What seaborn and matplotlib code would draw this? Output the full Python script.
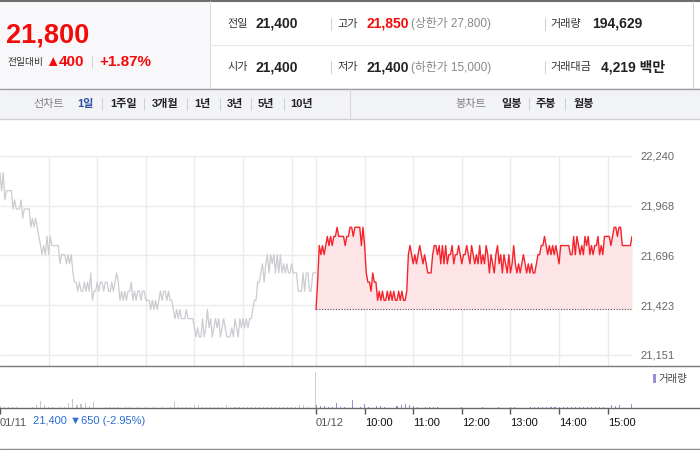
import numpy as np
import pandas as pd
import matplotlib
matplotlib.use("Agg")
import matplotlib.pyplot as plt
import seaborn as sns
from matplotlib import font_manager
from matplotlib.patches import Rectangle
from matplotlib.lines import Line2D

# ---------------- data ----------------
prev_prices = [
    22150, 22050, 22150, 22000, 22050, 22050, 22050, 22050, 21950, 22000,
    21950, 21950, 21950, 22000, 21900, 21950, 21950, 21950, 21950, 21850,
    21900, 21850, 21900, 21850, 21800, 21750, 21700, 21750, 21700, 21800,
    21700, 21800, 21750, 21750, 21750, 21750, 21750, 21650, 21700, 21700,
    21700, 21650, 21700, 21650, 21700, 21600, 21550, 21550, 21500, 21550,
    21500, 21500, 21550, 21500, 21550, 21500, 21600, 21450, 21500, 21500,
    21550, 21500, 21550, 21550, 21500, 21550, 21550, 21500, 21500, 21550,
    21500, 21550, 21600, 21550, 21450, 21500, 21450, 21500, 21450, 21500,
    21500, 21550, 21450, 21500, 21450, 21500, 21500, 21450, 21500, 21500,
    21450, 21450, 21450, 21400, 21450, 21400, 21450, 21400, 21450, 21500,
    21450, 21500, 21500, 21450, 21500, 21450, 21450, 21400, 21350, 21400,
    21350, 21400, 21350, 21350, 21350, 21400, 21350, 21350, 21350, 21350,
    21300, 21250, 21300, 21250, 21250, 21350, 21250, 21300, 21400, 21300,
    21350, 21250, 21300, 21350, 21300, 21350, 21250, 21300, 21350, 21300,
    21250, 21250, 21250, 21300, 21250, 21350, 21300, 21250, 21350, 21300,
    21350, 21300, 21350, 21300, 21350, 21350, 21400, 21450, 21450, 21550,
    21550, 21600, 21650, 21550, 21650, 21700, 21600, 21700, 21650, 21700,
    21600, 21700, 21600, 21700, 21600, 21650, 21600, 21650, 21600, 21600,
    21650, 21600, 21600, 21600, 21500, 21500, 21500, 21600, 21500, 21600,
    21600, 21500, 21500, 21600, 21600, 21600,
]
today_prices = [
    21400, 21550, 21750, 21700, 21750, 21700, 21750, 21800, 21750, 21800,
    21750, 21800, 21800, 21850, 21800, 21800, 21800, 21800, 21750, 21800,
    21800, 21850, 21850, 21800, 21850, 21850, 21850, 21850, 21750, 21850,
    21750, 21600, 21550, 21550, 21500, 21600, 21550, 21550, 21450, 21500,
    21450, 21500, 21450, 21450, 21500, 21450, 21500, 21450, 21500, 21450,
    21450, 21500, 21450, 21500, 21450, 21450, 21500, 21700, 21750, 21700,
    21650, 21700, 21650, 21700, 21750, 21700, 21650, 21700, 21650, 21600,
    21600, 21600, 21700, 21750, 21750, 21700, 21750, 21650, 21750, 21650,
    21750, 21650, 21700, 21700, 21750, 21650, 21700, 21700, 21750, 21700,
    21650, 21700, 21700, 21750, 21700, 21650, 21750, 21700, 21650, 21700,
    21650, 21750, 21650, 21700, 21650, 21750, 21700, 21600, 21700, 21650,
    21600, 21700, 21750, 21650, 21700, 21600, 21700, 21650, 21600, 21700,
    21600, 21650, 21750, 21650, 21600, 21650, 21600, 21650, 21700, 21650,
    21600, 21650, 21600, 21650, 21600, 21600, 21650, 21700, 21700, 21750,
    21750, 21800, 21750, 21700, 21750, 21700, 21750, 21700, 21750, 21700,
    21650, 21750, 21750, 21750, 21750, 21750, 21750, 21700, 21700, 21800,
    21700, 21800, 21750, 21700, 21750, 21700, 21800, 21750, 21800, 21700,
    21750, 21700, 21750, 21750, 21800, 21700, 21750, 21700, 21800, 21800,
    21800, 21800, 21750, 21800, 21850, 21850, 21800, 21850, 21850, 21750,
    21750, 21750, 21750, 21750, 21750, 21800,
]
# minutes after 09:00 of 01/11 (2-minute samples)
prev_minutes = list(range(0, 391, 2))
today_minutes = list(range(390, 781, 2))

prev_volume = [
    2, 1, 1.5, 1, 1, 0, 0, 0, 1.5, 3,
    7, 3, 1.5, 1, 0.5, 1.5, 1, 5, 9, 3,
    4, 5, 2, 6, 0, 0, 1, 1, 1, 1,
    0.5, 1, 1, 0.5, 1, 0.5, 1, 0, 1, 0.5,
    1, 0.5, 1, 6, 1, 1, 1, 1.5, 3, 3,
    1.5, 1, 1, 1, 1, 1.5, 3, 1, 1, 1,
    1, 1, 1.5, 1, 1, 1, 1, 1.5, 1.5, 1,
    1, 1, 1, 1, 3, 3, 1, 0,
]
today_volume = [
    3, 2.5, 2, 1, 1, 5, 1, 1, 0, 8,
    0, 1, 4, 1, 0.5, 2.5, 2, 1.5, 0, 0.5,
    2.5, 3, 4, 3, 2, 1, 0, 1, 1, 1,
    1, 0, 0, 0, 0, 0, 1, 0, 0, 0,
    0, 1, 0, 0, 0, 1, 0, 0, 1.5, 1,
    0, 0.5, 0, 1, 1, 1, 1, 1, 1, 1,
    1, 1, 1, 1, 1, 1, 1, 1, 1, 1,
    1, 1, 0.5, 3, 2, 3, 0, 0,
]
prev_vol_minutes = list(range(0, 390, 5))
today_vol_minutes = list(range(390, 780, 5))
close_vol_minutes = [389, 779]
close_volume = [36, 4.5]

price_ticks = [21151, 21423, 21696, 21968, 22240]
base_price = 21400
grid_minutes = [60, 120, 180, 240, 300, 360, 390, 450, 510, 570, 630, 690, 750]
tick_minutes = [0, 390, 450, 510, 570, 630, 690, 750]
tick_labels = ["01/11", "01/12", "10:00", "11:00", "12:00", "13:00", "14:00", "15:00"]

# ---------------- style ----------------
sns.set_theme(style="white")
plt.rcParams["font.family"] = ["Liberation Sans", "Noto Sans CJK KR", "DejaVu Sans"]
names = {f.name for f in font_manager.fontManager.ttflist}
NARROW = "Liberation Sans Narrow" if "Liberation Sans Narrow" in names else "Liberation Sans"
BIG = 24 if NARROW == "Liberation Sans Narrow" else 19.5
KFAM = ["Liberation Sans", "Noto Sans CJK KR", "DejaVu Sans"]

RED = "#f50a0a"
W, H = 700, 450
fig = plt.figure(figsize=(7, 4.5), dpi=100)
fig.patch.set_facecolor("white")


def fx(x):
    return x / W


def fy(y):
    return 1 - y / H


def rect(x0, y0, x1, y1, fc, z=0):
    fig.add_artist(Rectangle((fx(x0), fy(y1)), (x1 - x0) / W, (y1 - y0) / H,
                             transform=fig.transFigure, facecolor=fc,
                             edgecolor="none", zorder=z))


def hline(x0, x1, y, color, lw=0.75):
    fig.add_artist(Line2D([fx(x0), fx(x1)], [fy(y), fy(y)],
                          transform=fig.transFigure, color=color, lw=lw, zorder=2))


def vline(x, y0, y1, color, lw=0.75):
    fig.add_artist(Line2D([fx(x), fx(x)], [fy(y0), fy(y1)],
                          transform=fig.transFigure, color=color, lw=lw, zorder=2))


def txt(x, y, s, **kw):
    kw.setdefault("family", KFAM)
    fig.text(fx(x), fy(y), s, va="center", ha="left", **kw)


# ---------------- header ----------------
rect(0, 0, 210, 88, "#f8f8fa")
rect(210, 0, 693, 88, "#ffffff")
rect(0, 88, 700, 119, "#f2f3f7")
hline(0, 700, 1, "#6e6e6e", lw=1.5)
hline(0, 700, 88.5, "#a0a0a0", lw=1)
hline(0, 700, 119, "#cfcfd4", lw=1)
vline(210, 1, 88, "#dcdcdc")
vline(692.5, 1, 88, "#d0d0d0")
hline(210, 692, 45, "#e8e8e8")
vline(350, 89, 119, "#d5d5da")

txt(6, 35.5, "21,800", color=RED, size=BIG, weight="bold", family=[NARROW, "Noto Sans CJK KR"])
txt(7, 62.5, "전일대비", color="#333333", size=7)
txt(45, 62, "▲", color=RED, size=10.5)
txt(59, 62, "400", color=RED, size=11, weight="bold")
vline(92, 56, 68, "#d6d6d6")
txt(99, 62, "+1.87%", color=RED, size=11, weight="bold")

row_y = [24, 67]
txt(227, row_y[0], "전일", color="#333333", size=8)
txt(256, row_y[0], "21,400", color="#222222", size=10, weight="bold")
txt(227, row_y[1], "시가", color="#333333", size=8)
txt(256, row_y[1], "21,400", color="#222222", size=10, weight="bold")
for yy in row_y:
    vline(331, yy - 6, yy + 6, "#d0d0d0")
    vline(545, yy - 6, yy + 6, "#d0d0d0")
txt(337, row_y[0], "고가", color="#333333", size=8)
txt(366, row_y[0], "21,850", color=RED, size=10, weight="bold")
txt(411, row_y[0], "(상한가 27,800)", color="#888888", size=8.5)
txt(337, row_y[1], "저가", color="#333333", size=8)
txt(366, row_y[1], "21,400", color="#222222", size=10, weight="bold")
txt(411, row_y[1], "(하한가 15,000)", color="#888888", size=8.5)
txt(550, row_y[0], "거래량", color="#333333", size=8)
txt(592, row_y[0], "194,629", color="#222222", size=10, weight="bold")
txt(550, row_y[1], "거래대금", color="#333333", size=8)
txt(601, row_y[1], "4,219 백만", color="#222222", size=10, weight="bold")

ny = 104
txt(33, ny, "선차트", color="#808080", size=8)
txt(77, ny, "1일", color="#2c4fa3", size=8, weight="bold")
nav = [("1주일", 110), ("3개월", 152), ("1년", 194), ("3년", 227), ("5년", 258), ("10년", 290)]
for xs in [102, 144, 187, 220, 251, 284]:
    vline(xs, ny - 6, ny + 6, "#cfcfd4")
for s, xx in nav:
    txt(xx, ny, s, color="#222222", size=8, weight="bold")
txt(455, ny, "봉차트", color="#808080", size=8)
for s, xx in [("일봉", 501), ("주봉", 536), ("월봉", 574)]:
    txt(xx, ny, s, color="#222222", size=8, weight="bold")
for xs in [529, 565]:
    vline(xs, ny - 6, ny + 6, "#cfcfd4")

# ---------------- price chart ----------------
top_px, lab_bot_px, bot_px = 156, 355, 366
ybot = price_ticks[0] - (bot_px - lab_bot_px) * (price_ticks[-1] - price_ticks[0]) / (lab_bot_px - top_px)
ax = fig.add_axes([0, fy(bot_px), 632 / W, (bot_px - top_px) / H])
ax.set_facecolor("none")
ax.set_xlim(0, 780)
ax.set_ylim(ybot, price_ticks[-1])
ax.hlines(price_ticks, 0, 780, colors="#ebebeb", lw=1, zorder=0, clip_on=False)
ax.vlines(grid_minutes, ybot, price_ticks[-1], colors="#ebebeb", lw=1, zorder=0, clip_on=False)

ax.fill_between(today_minutes, today_prices, base_price, color="#fde4e6", lw=0, zorder=1)
sns.lineplot(x=prev_minutes, y=prev_prices, ax=ax, color="#cbccd1", lw=0.9,
             estimator=None, sort=False, zorder=3)
ax.hlines(base_price, 390, 780, colors="#555555", linestyles=(0, (1, 1.5)), lw=0.8, zorder=2)
sns.lineplot(x=today_minutes, y=today_prices, ax=ax, color="#f5232b", lw=1,
             estimator=None, sort=False, zorder=4)

for s in ax.spines.values():
    s.set_visible(False)
ax.yaxis.tick_right()
ax.set_yticks(price_ticks)
ax.set_yticklabels([f"{v:,}" for v in price_ticks])
ax.tick_params(axis="y", length=0, pad=6, labelsize=8, labelcolor="#666666")
ax.set_xticks([])
ax.set_xlabel("")
ax.set_ylabel("")

# ---------------- volume ----------------
vax = fig.add_axes([0, fy(408), 632 / W, (408 - 370) / H])
vax.set_facecolor("none")
vax.set_xlim(0, 780)
vax.set_ylim(0, 38)
vax.bar(prev_vol_minutes, prev_volume, width=1.3, color="#c6c7cc", lw=0)
vax.bar(today_vol_minutes, today_volume, width=1.3, color="#9b8dd0", lw=0)
vax.bar(close_vol_minutes, close_volume, width=1.3, color=["#cfcfcf", "#9b8dd0"], lw=0)
for s in vax.spines.values():
    s.set_visible(False)
vax.set_yticks([])
vax.set_xticks(tick_minutes)
vax.set_xticklabels(tick_labels)
vax.tick_params(axis="x", length=4, width=1, color="#555555", direction="out",
                pad=3, labelsize=8, bottom=True)
for lbl in vax.get_xticklabels():
    lbl.set_ha("left")
    lbl.set_color("#555555" if "/" in lbl.get_text() else "#111111")

hline(0, 700, 366, "#7a7a7a", lw=1)
hline(0, 700, 408, "#6a6a6a", lw=1)
hline(0, 700, 449, "#8a8a8a", lw=1)

txt(33, 421, "21,400 ▼650 (-2.95%)", color="#2a6dd2", size=8)
rect(653, 374, 656, 383, "#9b8dd0", z=3)
txt(658, 379, "거래량", color="#444444", size=7.5)

fig.savefig("out.png", dpi=100)
